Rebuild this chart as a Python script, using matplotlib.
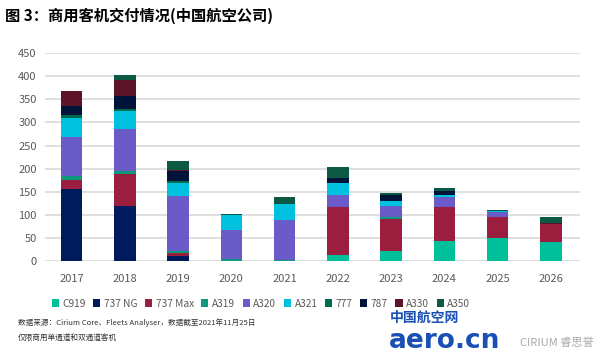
import matplotlib
matplotlib.use("Agg")
import matplotlib.pyplot as plt
import numpy as np

plt.rcParams['font.family'] = ['Noto Sans CJK SC', 'DejaVu Sans']

years = ['2017', '2018', '2019', '2020', '2021', '2022', '2023', '2024', '2025', '2026']
models = ['C919', '737 NG', '737 Max', 'A319', 'A320', 'A321', '777', '787', 'A330', 'A350']
colors = ['#00BF9B', '#001A5E', '#9B1E3F', '#0E9A78', '#6B5BC8', '#00C1DE',
          '#006B50', '#00143A', '#5E1428', '#0C5A44']

# deliveries per model, one list per model across years
c919 = [0, 0, 0, 0, 0, 14, 23, 44, 50, 42]
b737ng = [155, 120, 11, 0, 0, 0, 0, 0, 0, 0]
b737max = [21, 69, 7, 0, 0, 103, 69, 73, 46, 38]
a319 = [9, 7, 4, 4, 3, 0, 3, 0, 0, 0]
a320 = [84, 89, 119, 64, 87, 25, 25, 22, 10, 0]
a321 = [40, 39, 28, 31, 33, 28, 10, 3, 2, 0]
b777 = [7, 4, 4, 0, 0, 0, 0, 0, 0, 0]
b787 = [19, 29, 22, 0, 0, 10, 12, 9, 1, 0]
a330 = [32, 35, 3, 0, 0, 0, 0, 0, 0, 2]
a350 = [0, 10, 18, 4, 15, 24, 5, 7, 2, 13]

series = [c919, b737ng, b737max, a319, a320, a321, b777, b787, a330, a350]

fig = plt.figure(figsize=(6, 3.53), dpi=100)
ax = fig.add_axes([0.075, 0.26, 0.892, 0.59])

x = np.arange(len(years))
bottom = np.zeros(len(years))
for name, vals, col in zip(models, series, colors):
    ax.bar(x, vals, 0.4, bottom=bottom, color=col, label=name, zorder=3)
    bottom += np.array(vals)

ax.set_ylim(0, 450)
ax.set_xlim(-0.5, 9.55)
ax.set_yticks(range(0, 451, 50))
ax.set_xticks(x)
ax.set_xticklabels(years)
ax.grid(axis='y', color='#D9D9D9', linewidth=1.2, zorder=0)
for s in ax.spines.values():
    s.set_visible(False)
ax.tick_params(length=0, labelsize=8, colors='#595959')
ax.tick_params(axis='x', pad=9)
ax.tick_params(axis='y', pad=6)

fig.text(0.008, 0.955, '图 3：商用客机交付情况(中国航空公司)', fontsize=11,
         fontweight='bold', va='center', ha='left')

handles, labels = ax.get_legend_handles_labels()
fig.legend(handles, labels, ncol=10, loc='center', bbox_to_anchor=(0.435, 0.14),
           frameon=False, fontsize=7.3, handlelength=0.7, handleheight=0.7,
           handletextpad=0.35, columnspacing=0.75, labelcolor='#595959')

fig.text(0.03, 0.087, '数据来源：Cirium Core、Fleets Analyser，数据截至2021年11月25日',
         fontsize=5.5, va='center', color='#333333')
fig.text(0.03, 0.042, '仅限商用单通道和双通道客机', fontsize=5.5, va='center',
         color='#333333')

# watermark
fig.text(0.65, 0.1, '中国航空网', fontsize=10, fontweight='bold', color='#1A4FB5',
         ha='left', va='center')
fig.text(0.648, 0.035, 'aero.cn', fontsize=19, fontweight='bold', color='#1A4FB5',
         ha='left', va='center', family='DejaVu Sans')
fig.text(0.99, 0.03, 'CIRIUM 睿思誉', fontsize=8, color='#AAAAAA',
         ha='right', va='center')

fig.savefig('out.png', dpi=100)
